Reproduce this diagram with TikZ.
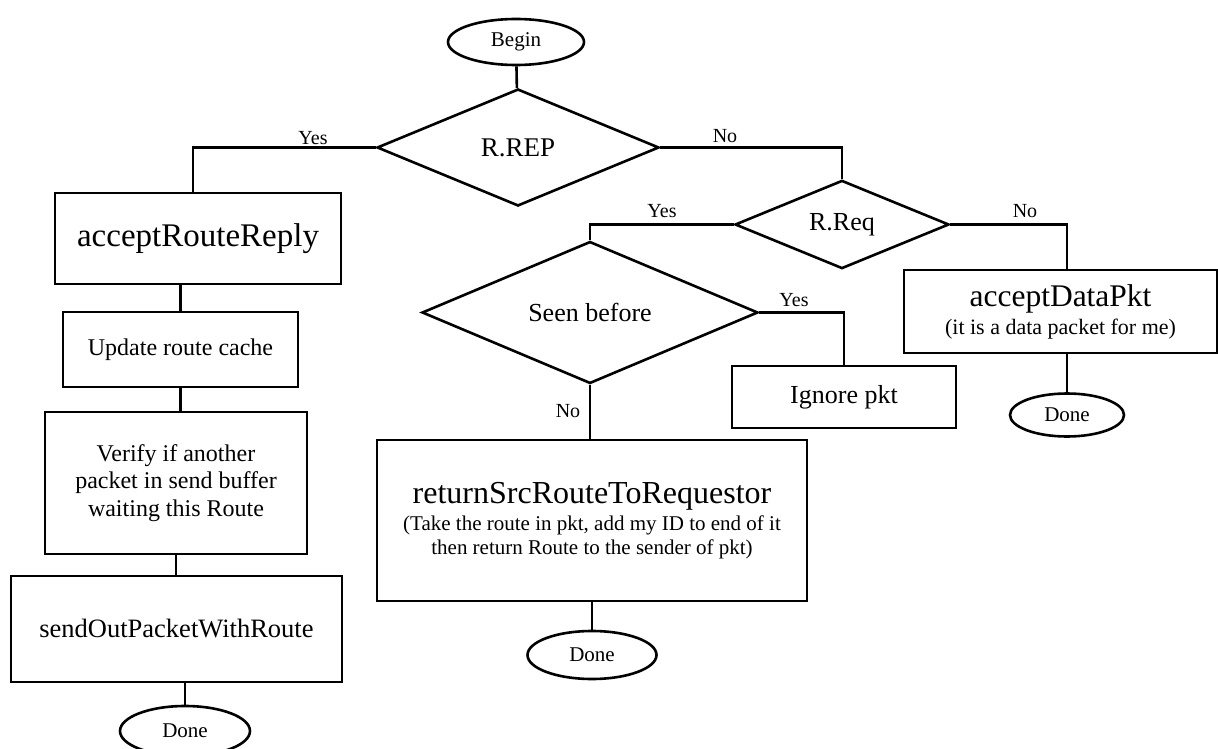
\documentclass[tikz,border=0pt]{standalone}
\usepackage{fontspec}
\setmainfont{Liberation Serif}
\usetikzlibrary{shapes.geometric}

\begin{document}
\begin{tikzpicture}[x=1pt,y=-1pt,line width=2.6pt,
  box/.style={draw,rectangle,inner sep=0pt,align=center},
  dec/.style={draw,diamond,inner sep=0pt,font=\fontsize{26}{30}\selectfont},
  term/.style={draw,ellipse,inner sep=0pt,font=\fontsize{21}{24}\selectfont},
  lbl/.style={inner sep=0pt,font=\fontsize{20}{22}\selectfont}]
\useasboundingbox (0,0) rectangle (1218,749);
\node[term,minimum width=136pt,minimum height=46pt] (begin) at (516,42) {Begin};
\node[dec,minimum width=282pt,minimum height=117pt,font=\fontsize{27}{30}\selectfont] (rrep) at (518,147.5) {R.REP};
\node[box,minimum width=286pt,minimum height=91pt,font=\fontsize{33}{36}\selectfont] (arr) at (198,238.5) {acceptRouteReply};
\node[box,minimum width=235pt,minimum height=75pt,font=\fontsize{24}{27.5}\selectfont] (upd) at (180.5,349.5) {Update route cache};
\node[box,minimum width=262pt,minimum height=142pt,font=\fontsize{24}{27.5}\selectfont] (ver) at (176,483) {Verify if another\\packet in send buffer\\waiting this Route};
\node[box,minimum width=331pt,minimum height=106pt,font=\fontsize{26.5}{30}\selectfont] (snd) at (176.5,629) {sendOutPacketWithRoute};
\node[term,minimum width=130pt,minimum height=50pt] (done1) at (185,731) {Done};
\node[dec,minimum width=214pt,minimum height=85pt] (rreq) at (842,224.5) {R.Req};
\node[dec,minimum width=336pt,minimum height=105pt] (seen) at (590,312.5) {Seen before};
\node[box,minimum width=224pt,minimum height=62pt,font=\fontsize{26}{30}\selectfont] (ign) at (844,397) {Ignore pkt};
\node[box,minimum width=430pt,minimum height=161pt,font=\fontsize{21}{24}\selectfont] (ret) at (592,520.5) {{\fontsize{32}{34}\selectfont returnSrcRouteToRequestor}\\[3pt](Take the route in pkt, add my ID to end of it\\then return Route to the sender of pkt)};
\node[term,minimum width=129pt,minimum height=48pt] (done2) at (592,655) {Done};
\node[box,minimum width=313pt,minimum height=83pt,font=\fontsize{22}{25}\selectfont] (adp) at (1060.5,311.5) {{\fontsize{31.5}{34}\selectfont acceptDataPkt}\\[3pt](it is a data packet for me)};
\node[term,minimum width=114pt,minimum height=43pt] (done3) at (1067,415) {Done};
\node[lbl,anchor=south] (yes1) at (313,146) {Yes};
\node[lbl,anchor=south] (no1) at (725,144) {No};
\node[lbl,anchor=south] (yes2) at (662,219) {Yes};
\node[lbl,anchor=south] (no2) at (1025,219) {No};
\node[lbl,anchor=south] (yes3) at (794,308) {Yes};
\node[lbl] (no3) at (568,411) {No};
\draw (begin) -- (rrep);
\draw (rrep.west) -| ([xshift=-5pt]arr.north);
\draw (arr.south -| upd.north) -- (upd);
\draw (upd) -- (upd.south |- ver.north);
\draw (ver) -- (ver.south |- snd.north);
\draw (snd.south -| done1.north) -- (done1);
\draw (rrep.east) -| (rreq.north);
\draw (rreq.west) -| (seen.north);
\draw (rreq.east) -| (adp.north -| done3.north);
\draw (adp.south -| done3.north) -- (done3);
\draw (seen.east) -| (ign.north);
\draw (seen.south) -- (seen.south |- ret.north);
\draw (ret) -- (done2);
\end{tikzpicture}
\end{document}
